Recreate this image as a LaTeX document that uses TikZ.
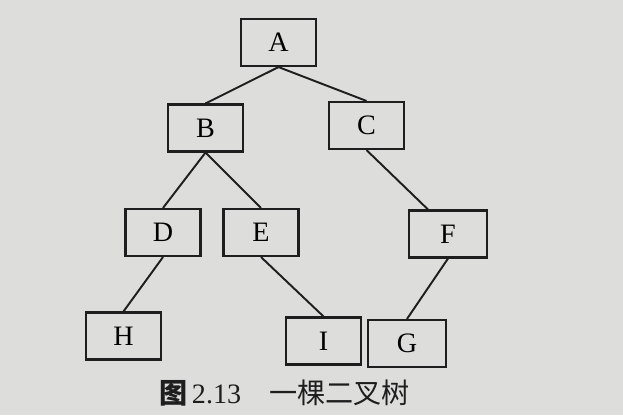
\documentclass[tikz,border=0pt]{standalone}
\usepackage{fontspec}
\setmainfont{Liberation Serif}
\newfontfamily\cjk{Noto Sans CJK SC}
\usetikzlibrary{calc}
\definecolor{paper}{RGB}{221,222,219}
\definecolor{ink}{RGB}{30,30,30}

\begin{document}
\begin{tikzpicture}[
    box/.style={rectangle, draw=ink, line width=1.2pt, minimum width=1.5cm, minimum height=0.94cm, font=\fontsize{16}{18}\selectfont},
    edge/.style={draw=ink, line width=1.1pt}
]
\fill[paper] (0,0) rectangle (12.46,-8.30);

\node[box] (a) at (5.57,-0.85) {A};
\node[box] (b) at (4.11,-2.56) {B};
\node[box] (c) at (7.33,-2.51) {C};
\node[box] (d) at (3.26,-4.65) {D};
\node[box] (e) at (5.22,-4.65) {E};
\node[box, minimum width=1.56cm] (f) at (8.96,-4.68) {F};
\node[box] (h) at (2.47,-6.72) {H};
\node[box] (i) at (6.47,-6.82) {I};
\node[box, minimum width=1.56cm] (g) at (8.14,-6.87) {G};

\draw[edge] (a.south) -- (b.north);
\draw[edge] (a.south) -- (c.north);
\draw[edge] (b.south) -- (d.north);
\draw[edge] (b.south) -- (e.north);
\draw[edge] (c.south) -- ($(f.north)!0.5!(f.north west)$);
\draw[edge] (d.south) -- (h.north);
\draw[edge] (e.south) -- (i.north);
\draw[edge] (f.south) -- (g.north);

\node[text=ink, font=\fontsize{16}{18}\selectfont] (cap) at (5.69,-7.86) {{\cjk\bfseries 图}\,2.13\quad{\cjk 一棵二叉树}};
\end{tikzpicture}
\end{document}
